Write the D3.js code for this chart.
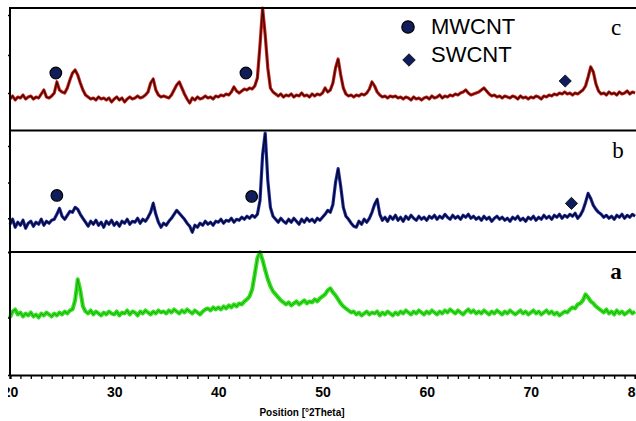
<!DOCTYPE html>
<html>
<head>
<meta charset="utf-8">
<script src="https://cdn.jsdelivr.net/npm/d3@7"></script>
<style>
  body { margin: 0; background: #fff; }
  svg { display: block; }
</style>
</head>
<body>
<div id="chart"></div>
<script>
// XRD patterns, intensity every 0.25 deg from 20 to 80
const xStart = 20, xStep = 0.25

const cVals = [
  31,34,30,33,32,35,31,33,34,31,33,32,36,40,33,32,34,37,48,40,
  38,37,42,50,57,60,55,47,40,35,33,31,32,30,33,31,32,30,32,28,
  31,33,30,32,28,31,33,31,32,34,32,33,35,38,47,51,40,35,33,34,
  33,32,35,40,45,48,42,36,31,27,32,30,33,31,32,34,32,33,31,34,
  33,35,34,36,35,38,43,39,37,39,41,40,42,41,44,52,85,122,95,62,
  42,38,36,34,36,33,35,34,36,33,35,34,37,34,35,33,36,34,36,35,
  37,42,38,40,47,62,71,55,42,36,34,35,33,35,34,36,35,37,41,48,
  44,38,35,33,34,32,34,33,34,32,33,31,33,32,30,33,31,32,30,32,
  33,31,34,32,33,35,32,34,33,35,34,36,35,37,38,40,37,35,36,37,
  38,40,42,39,36,34,35,33,34,32,34,33,32,34,33,31,34,32,33,31,
  33,32,34,33,31,34,33,35,34,36,35,37,36,38,36,37,35,37,36,38,
  40,44,53,63,58,46,39,36,37,35,38,36,37,35,38,36,37,39,36,38,
  37
]

const bVals = [
  28,33,25,30,27,32,24,29,31,26,30,28,33,27,31,29,32,33,38,44,
  36,33,37,41,40,45,43,38,34,30,26,31,28,32,27,30,25,31,28,32,
  27,30,26,31,29,33,28,31,30,34,29,33,31,35,40,49,38,30,25,29,
  27,31,34,38,42,39,36,33,29,26,20,27,25,29,27,31,28,30,27,31,
  30,33,29,32,31,34,30,33,32,35,33,36,34,37,35,38,52,98,120,72,
  45,36,33,30,34,31,29,33,30,34,31,28,33,30,34,31,33,30,34,32,
  35,38,42,40,48,70,84,66,45,36,33,29,26,25,31,28,33,30,34,40,
  48,53,38,32,35,31,36,33,37,32,35,31,36,33,37,34,32,36,33,35,
  32,36,34,37,33,36,34,38,35,33,37,34,36,33,37,35,38,34,36,33,
  35,32,36,33,35,31,34,36,33,35,32,34,31,35,33,36,32,34,31,35,
  33,36,32,35,33,37,34,36,33,37,35,38,34,37,35,38,36,39,34,37,
  42,50,59,54,47,43,40,38,35,37,34,36,33,37,35,38,34,37,35,38,
  36
]

const aVals = [
  57,63,65,60,62,58,61,59,62,58,60,57,61,59,62,60,58,61,59,62,
  60,63,61,64,65,74,95,84,68,63,61,64,60,63,61,59,62,60,63,61,
  60,63,59,62,61,64,60,63,62,59,63,61,64,62,60,63,61,64,62,63,
  61,64,62,65,63,61,64,62,65,63,61,64,62,60,63,65,66,64,67,65,
  67,65,68,66,69,67,70,68,71,70,73,75,78,85,100,116,122,114,104,95,
  88,83,80,77,74,72,70,72,69,71,73,70,72,74,71,73,72,75,73,76,
  78,80,84,86,82,79,75,71,68,66,64,62,63,60,62,59,61,63,60,62,
  61,63,59,62,60,63,61,59,62,60,63,61,64,62,60,63,61,64,62,60,
  63,61,64,62,60,63,61,64,62,65,63,61,64,62,60,63,65,62,64,61,
  63,61,64,62,60,63,61,64,62,60,63,61,64,62,60,62,64,61,63,60,
  62,64,61,63,60,62,64,61,63,60,62,59,61,63,62,65,67,66,70,71,
  74,80,77,73,71,68,66,64,62,65,61,63,60,64,61,63,60,62,64,61,
  63
]

// peak markers [2theta, intensity]
const cMW = [[24.4, 57], [42.65, 57]]
const cSW = [[73.3, 49]]
const bMW = [[24.5, 57], [43.2, 56]]
const bSW = [[73.9, 49]]

const xTicks = d3.range(20, 81, 1)
const xLabels = [20, 30, 40, 50, 60, 70, 80]
const cTicks = [37, 75, 115]
const bTicks = [0, 34, 70, 107]
const aTicks = [0, 57, 122]

const width = 636, height = 421
const x = d3.scaleLinear().domain([20, 80]).range([10, 635])

const panels = [
  {name: "c", vals: cVals, top: 8, bottom: 130, halo: "#d01f16", line: "#2a0603", haloW: 3.2, lineW: 1.3, lineOp: 0.9, ticks: cTicks, mw: cMW, sw: cSW, weight: "normal", lx: 616},
  {name: "b", vals: bVals, top: 131, bottom: 252, halo: "#2030b0", line: "#05051e", haloW: 3.2, lineW: 1.4, lineOp: 0.95, ticks: bTicks, mw: bMW, sw: bSW, weight: "normal", lx: 618},
  {name: "a", vals: aVals, top: 252, bottom: 375, halo: "#2fe21c", line: "#1c5e12", haloW: 4, lineW: 0.9, lineOp: 0.6, ticks: aTicks, mw: [], sw: [], weight: "bold", lx: 616}
]

const svg = d3.select("#chart").append("svg")
  .attr("width", width)
  .attr("height", height)

svg.append("defs").append("clipPath").attr("id", "crop")
  .append("rect").attr("x", 8).attr("y", 0).attr("width", width).attr("height", height)

const root = svg.append("g").attr("clip-path", "url(#crop)")

const markerFill = "#101d5a"

panels.forEach(p => {
  const y = d3.scaleLinear().domain([0, 122]).range([p.bottom, p.top])
  const pts = p.vals.map((v, i) => [xStart + i * xStep, v])
  const line = d3.line().x(d => x(d[0])).y(d => y(d[1]))

  const g = root.append("g")

  g.append("path").datum(pts)
    .attr("d", line)
    .attr("fill", "none")
    .attr("stroke", p.halo)
    .attr("stroke-width", p.haloW)
    .attr("stroke-linejoin", "round")
  g.append("path").datum(pts)
    .attr("d", line)
    .attr("fill", "none")
    .attr("stroke", p.line)
    .attr("stroke-width", p.lineW)
    .attr("stroke-opacity", p.lineOp)

  // left ticks
  g.append("g")
    .attr("transform", "translate(10,0)")
    .call(d3.axisLeft(y).tickValues(p.ticks).tickSize(3).tickFormat(""))
    .call(a => a.select(".domain").remove())
    .selectAll("line").attr("stroke", "#000").attr("stroke-width", 1.5)

  g.selectAll(".mw").data(p.mw).enter().append("circle")
    .attr("cx", d => x(d[0]))
    .attr("cy", d => y(d[1]))
    .attr("r", 5.8)
    .attr("fill", markerFill)
    .attr("stroke", "#000")
    .attr("stroke-width", 1.2)

  g.selectAll(".sw").data(p.sw).enter().append("path")
    .attr("d", d3.symbol().type(d3.symbolDiamond2).size(95))
    .attr("transform", d => "translate(" + x(d[0]) + "," + y(d[1]) + ")")
    .attr("fill", markerFill)
    .attr("stroke", "#000")
    .attr("stroke-width", 0.8)

  g.append("text")
    .attr("x", p.lx)
    .attr("y", p.top + 27)
    .attr("text-anchor", "middle")
    .style("font-family", "'Liberation Serif', 'Times New Roman', serif")
    .style("font-size", "23px")
    .style("font-weight", p.weight)
    .text(p.name)
})

// frame lines
const frame = root.append("g").attr("stroke", "#000").attr("stroke-width", 2)
frame.append("line").attr("x1", 10).attr("x2", width).attr("y1", 8).attr("y2", 8)
frame.append("line").attr("x1", 10).attr("x2", width).attr("y1", 130.5).attr("y2", 130.5)
frame.append("line").attr("x1", 10).attr("x2", width).attr("y1", 252).attr("y2", 252)
frame.append("line").attr("x1", 10).attr("x2", 10).attr("y1", 7).attr("y2", 376)

// bottom axis
const xAxis = root.append("g")
  .attr("transform", "translate(0,375)")
  .call(d3.axisBottom(x).tickValues(xTicks).tickSize(4)
    .tickFormat(d => xLabels.includes(d) ? d : ""))
xAxis.select(".domain").attr("stroke", "#000").attr("stroke-width", 2.2)
xAxis.selectAll(".tick line").attr("stroke", "#000").attr("stroke-width", 1.3)
xAxis.selectAll(".tick text")
  .attr("y", 12)
  .style("font-family", "'Liberation Sans Narrow', 'Arial Narrow', sans-serif")
  .style("font-weight", "bold")
  .style("font-size", "14px")
  .attr("fill", "#000")

root.append("text")
  .attr("x", 302)
  .attr("y", 416)
  .attr("text-anchor", "middle")
  .style("font-family", "'Liberation Sans Narrow', 'Arial Narrow', sans-serif")
  .style("font-weight", "bold")
  .style("font-size", "10px")
  .text("Position [°2Theta]")

// legend
const legend = root.append("g")
legend.append("circle")
  .attr("cx", 408).attr("cy", 27).attr("r", 6.2)
  .attr("fill", markerFill).attr("stroke", "#000").attr("stroke-width", 1.2)
legend.append("path")
  .attr("d", d3.symbol().type(d3.symbolDiamond2).size(100))
  .attr("transform", "translate(409,60)")
  .attr("fill", markerFill).attr("stroke", "#000").attr("stroke-width", 0.8)
legend.append("text")
  .attr("x", 431).attr("y", 34)
  .style("font-family", "'Liberation Sans', Arial, sans-serif")
  .style("font-size", "22px")
  .text("MWCNT")
legend.append("text")
  .attr("x", 431).attr("y", 62)
  .style("font-family", "'Liberation Sans', Arial, sans-serif")
  .style("font-size", "22px")
  .text("SWCNT")
</script>
</body>
</html>
